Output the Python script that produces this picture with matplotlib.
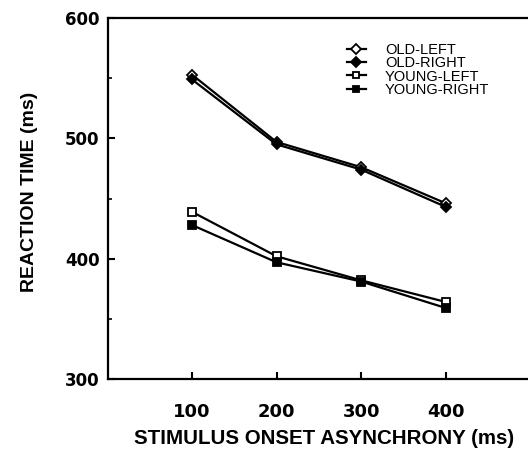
import numpy as np
import matplotlib
matplotlib.use('Agg')
import matplotlib.pyplot as plt
from matplotlib.ticker import MultipleLocator

# data
soa = [100, 200, 300, 400]
old_left = [553, 497, 476, 446]
old_right = [549, 495, 474, 443]
young_left = [439, 402, 382, 364]
young_right = [428, 397, 381, 359]
xtick_labels = ['100', '200', '300', '400']
ytick_vals = [300, 400, 500, 600]

plt.rcParams['font.family'] = 'Liberation Sans'

fig = plt.figure(figsize = (5.28, 4.68), dpi = 100)
ax = fig.add_axes([108/528, 1 - 379/468, 1 - 108/528, (379 - 18)/468])

kw = dict(color = 'black', lw = 1.6, markersize = 5.5, markeredgewidth = 1.3)
ax.plot(soa, old_left, marker = 'D', markerfacecolor = 'white', label = 'OLD-LEFT', **kw)
ax.plot(soa, old_right, marker = 'D', markerfacecolor = 'black', label = 'OLD-RIGHT', **kw)
ax.plot(soa, young_left, marker = 's', markerfacecolor = 'white', label = 'YOUNG-LEFT', **kw)
ax.plot(soa, young_right, marker = 's', markerfacecolor = 'black', label = 'YOUNG-RIGHT', **kw)

ax.set_xlim(1, 497)
ax.set_ylim(300, 600)
ax.set_xticks(soa)
ax.set_xticklabels(xtick_labels, family = 'DejaVu Sans', fontweight = 'bold', fontsize = 13)
ax.set_yticks(ytick_vals)
ax.set_yticklabels([str(v) for v in ytick_vals], family = 'DejaVu Sans', fontweight = 'bold', fontsize = 12)
ax.yaxis.set_minor_locator(MultipleLocator(50))
ax.tick_params(axis = 'x', direction = 'in', length = 5, width = 1.5, pad = 17)
ax.tick_params(axis = 'y', which = 'major', direction = 'in', length = 5, width = 1.5, pad = 6)
ax.tick_params(axis = 'y', which = 'minor', direction = 'in', length = 3, width = 1.2)

for s in ['left', 'bottom', 'top']:
    ax.spines[s].set_linewidth(1.6)
ax.spines['right'].set_visible(False)

fig.text(324/528, 1 - 438/468, 'STIMULUS ONSET ASYNCHRONY (ms)', fontsize = 14.8,
         fontweight = 'bold', ha = 'center', va = 'center')
fig.text(30/528, 1 - 192/468, 'REACTION TIME (ms)', fontsize = 14, fontweight = 'bold',
         rotation = 90, ha = 'center', va = 'center')

ax.legend(loc = 'upper left', bbox_to_anchor = (347/528, 1 - 43/468),
          bbox_transform = fig.transFigure, frameon = False, fontsize = 10.5,
          handlelength = 1.3, handletextpad = 1.3, labelspacing = -0.05,
          borderpad = 0, borderaxespad = 0, markerscale = 0.85)

fig.savefig('out.png', dpi = 100)
